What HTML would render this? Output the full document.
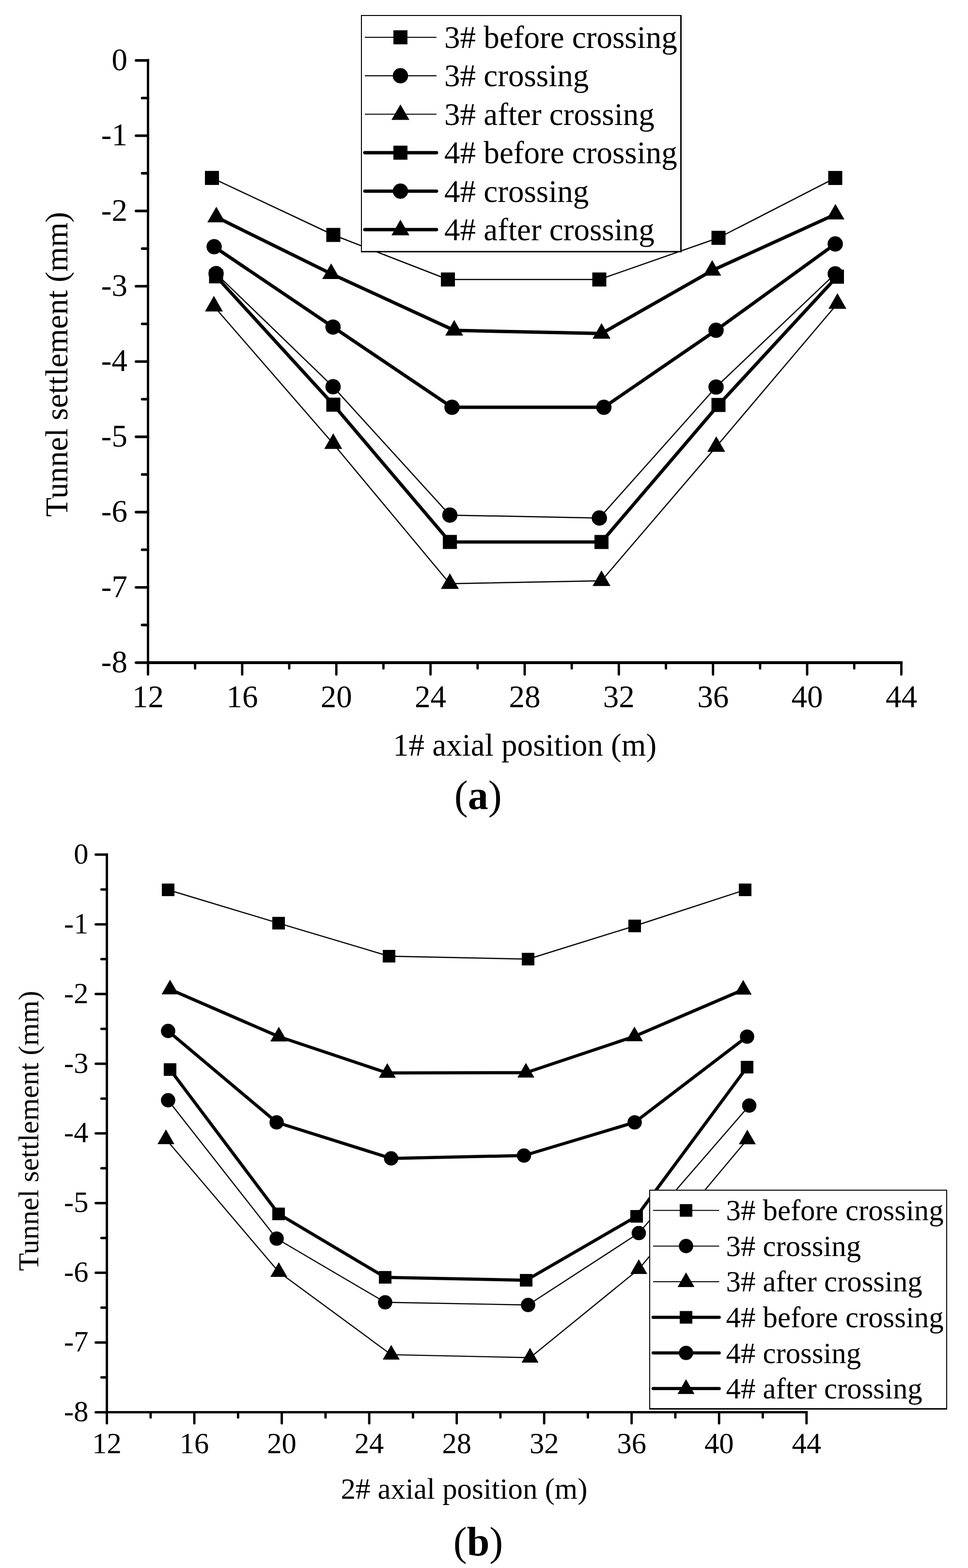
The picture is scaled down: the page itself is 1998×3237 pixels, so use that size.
<!DOCTYPE html>
<html><head><meta charset="utf-8"><title>Tunnel settlement</title>
<style>
html,body{margin:0;padding:0;background:#fff;}
body{width:1998px;height:3237px;overflow:hidden;}
svg{display:block;}
text{font-family:'Liberation Serif', serif;fill:#000;}
</style></head><body>
<svg width="1998" height="3237" viewBox="0 0 1998 3237">
<rect x="0" y="0" width="1998" height="3237" fill="#fff"/>

<polyline points="437.5,367.3 688.0,485.0 924.5,577.0 1237.0,577.0 1483.0,491.0 1724.0,367.4" fill="none" stroke="#000" stroke-width="2.5" stroke-linejoin="round" stroke-linecap="round"/>
<polyline points="446.0,564.8 687.5,798.4 928.5,1063.4 1237.1,1069.4 1478.0,799.0 1724.0,565.2" fill="none" stroke="#000" stroke-width="2.5" stroke-linejoin="round" stroke-linecap="round"/>
<polyline points="441.5,632.2 687.8,916.0 928.5,1205.0 1241.5,1199.0 1478.4,922.1 1728.5,626.7" fill="none" stroke="#000" stroke-width="2.5" stroke-linejoin="round" stroke-linecap="round"/>
<polyline points="446.0,570.5 688.0,835.4 928.5,1118.8 1241.5,1118.9 1483.0,836.0 1727.5,571.2" fill="none" stroke="#000" stroke-width="6.9" stroke-linejoin="round" stroke-linecap="round"/>
<polyline points="442.0,509.3 687.4,675.2 933.0,840.8 1246.4,840.8 1478.0,681.8 1724.0,503.6" fill="none" stroke="#000" stroke-width="6.9" stroke-linejoin="round" stroke-linecap="round"/>
<polyline points="446.5,448.2 683.5,565.2 937.5,682.0 1241.6,688.5 1470.0,558.4 1724.4,442.3" fill="none" stroke="#000" stroke-width="6.9" stroke-linejoin="round" stroke-linecap="round"/>
<g fill="#000">
<rect x="423.0" y="352.8" width="29.0" height="29.0"/>
<rect x="673.5" y="470.5" width="29.0" height="29.0"/>
<rect x="910.0" y="562.5" width="29.0" height="29.0"/>
<rect x="1222.5" y="562.5" width="29.0" height="29.0"/>
<rect x="1468.5" y="476.5" width="29.0" height="29.0"/>
<rect x="1709.5" y="352.9" width="29.0" height="29.0"/>
<circle cx="446.0" cy="564.8" r="15.8"/>
<circle cx="687.5" cy="798.4" r="15.8"/>
<circle cx="928.5" cy="1063.4" r="15.8"/>
<circle cx="1237.1" cy="1069.4" r="15.8"/>
<circle cx="1478.0" cy="799.0" r="15.8"/>
<circle cx="1724.0" cy="565.2" r="15.8"/>
<polygon points="441.5,610.8 423.0,642.9 460.0,642.9"/>
<polygon points="687.8,894.6 669.3,926.7 706.3,926.7"/>
<polygon points="928.5,1183.6 910.0,1215.7 947.0,1215.7"/>
<polygon points="1241.5,1177.6 1223.0,1209.7 1260.0,1209.7"/>
<polygon points="1478.4,900.7 1459.9,932.8 1496.9,932.8"/>
<polygon points="1728.5,605.3 1710.0,637.4 1747.0,637.4"/>
<rect x="431.5" y="556.0" width="29.0" height="29.0"/>
<rect x="673.5" y="820.9" width="29.0" height="29.0"/>
<rect x="914.0" y="1104.3" width="29.0" height="29.0"/>
<rect x="1227.0" y="1104.4" width="29.0" height="29.0"/>
<rect x="1468.5" y="821.5" width="29.0" height="29.0"/>
<rect x="1713.0" y="556.7" width="29.0" height="29.0"/>
<circle cx="442.0" cy="509.3" r="15.8"/>
<circle cx="687.4" cy="675.2" r="15.8"/>
<circle cx="933.0" cy="840.8" r="15.8"/>
<circle cx="1246.4" cy="840.8" r="15.8"/>
<circle cx="1478.0" cy="681.8" r="15.8"/>
<circle cx="1724.0" cy="503.6" r="15.8"/>
<polygon points="446.5,426.8 428.0,458.9 465.0,458.9"/>
<polygon points="683.5,543.8 665.0,575.9 702.0,575.9"/>
<polygon points="937.5,660.6 919.0,692.7 956.0,692.7"/>
<polygon points="1241.6,667.1 1223.1,699.2 1260.1,699.2"/>
<polygon points="1470.0,537.0 1451.5,569.1 1488.5,569.1"/>
<polygon points="1724.4,420.9 1705.9,453.0 1742.9,453.0"/>
</g>
<g stroke="#000" fill="none">
<line x1="305.5" y1="121.8" x2="305.5" y2="1368.0" stroke-width="4.9" stroke-linecap="butt"/>
<line x1="303.1" y1="1368.0" x2="1862.9" y2="1368.0" stroke-width="5.8" stroke-linecap="butt"/>
<line x1="305.5" y1="124.7" x2="280.7" y2="124.7" stroke-width="5.4" stroke-linecap="round"/>
<line x1="305.5" y1="202.4" x2="293.4" y2="202.4" stroke-width="5.4" stroke-linecap="round"/>
<line x1="305.5" y1="280.1" x2="280.7" y2="280.1" stroke-width="5.4" stroke-linecap="round"/>
<line x1="305.5" y1="357.8" x2="293.4" y2="357.8" stroke-width="5.4" stroke-linecap="round"/>
<line x1="305.5" y1="435.5" x2="280.7" y2="435.5" stroke-width="5.4" stroke-linecap="round"/>
<line x1="305.5" y1="513.2" x2="293.4" y2="513.2" stroke-width="5.4" stroke-linecap="round"/>
<line x1="305.5" y1="590.9" x2="280.7" y2="590.9" stroke-width="5.4" stroke-linecap="round"/>
<line x1="305.5" y1="668.6" x2="293.4" y2="668.6" stroke-width="5.4" stroke-linecap="round"/>
<line x1="305.5" y1="746.4" x2="280.7" y2="746.4" stroke-width="5.4" stroke-linecap="round"/>
<line x1="305.5" y1="824.1" x2="293.4" y2="824.1" stroke-width="5.4" stroke-linecap="round"/>
<line x1="305.5" y1="901.8" x2="280.7" y2="901.8" stroke-width="5.4" stroke-linecap="round"/>
<line x1="305.5" y1="979.5" x2="293.4" y2="979.5" stroke-width="5.4" stroke-linecap="round"/>
<line x1="305.5" y1="1057.2" x2="280.7" y2="1057.2" stroke-width="5.4" stroke-linecap="round"/>
<line x1="305.5" y1="1134.9" x2="293.4" y2="1134.9" stroke-width="5.4" stroke-linecap="round"/>
<line x1="305.5" y1="1212.6" x2="280.7" y2="1212.6" stroke-width="5.4" stroke-linecap="round"/>
<line x1="305.5" y1="1290.3" x2="293.4" y2="1290.3" stroke-width="5.4" stroke-linecap="round"/>
<line x1="305.5" y1="1368.0" x2="280.7" y2="1368.0" stroke-width="5.4" stroke-linecap="round"/>
<line x1="305.5" y1="1368.0" x2="305.5" y2="1392.6" stroke-width="4.9" stroke-linecap="round"/>
<line x1="402.7" y1="1368.0" x2="402.7" y2="1380.0" stroke-width="4.9" stroke-linecap="round"/>
<line x1="499.9" y1="1368.0" x2="499.9" y2="1392.6" stroke-width="4.9" stroke-linecap="round"/>
<line x1="597.0" y1="1368.0" x2="597.0" y2="1380.0" stroke-width="4.9" stroke-linecap="round"/>
<line x1="694.2" y1="1368.0" x2="694.2" y2="1392.6" stroke-width="4.9" stroke-linecap="round"/>
<line x1="791.4" y1="1368.0" x2="791.4" y2="1380.0" stroke-width="4.9" stroke-linecap="round"/>
<line x1="888.6" y1="1368.0" x2="888.6" y2="1392.6" stroke-width="4.9" stroke-linecap="round"/>
<line x1="985.8" y1="1368.0" x2="985.8" y2="1380.0" stroke-width="4.9" stroke-linecap="round"/>
<line x1="1083.0" y1="1368.0" x2="1083.0" y2="1392.6" stroke-width="4.9" stroke-linecap="round"/>
<line x1="1180.1" y1="1368.0" x2="1180.1" y2="1380.0" stroke-width="4.9" stroke-linecap="round"/>
<line x1="1277.3" y1="1368.0" x2="1277.3" y2="1392.6" stroke-width="4.9" stroke-linecap="round"/>
<line x1="1374.5" y1="1368.0" x2="1374.5" y2="1380.0" stroke-width="4.9" stroke-linecap="round"/>
<line x1="1471.7" y1="1368.0" x2="1471.7" y2="1392.6" stroke-width="4.9" stroke-linecap="round"/>
<line x1="1568.9" y1="1368.0" x2="1568.9" y2="1380.0" stroke-width="4.9" stroke-linecap="round"/>
<line x1="1666.0" y1="1368.0" x2="1666.0" y2="1392.6" stroke-width="4.9" stroke-linecap="round"/>
<line x1="1763.2" y1="1368.0" x2="1763.2" y2="1380.0" stroke-width="4.9" stroke-linecap="round"/>
<line x1="1860.4" y1="1368.0" x2="1860.4" y2="1392.6" stroke-width="4.9" stroke-linecap="round"/>
</g>
<g font-size="65" text-anchor="end">
<text x="263.0" y="144.7">0</text>
<text x="263.0" y="300.1">-1</text>
<text x="263.0" y="455.5">-2</text>
<text x="263.0" y="610.9">-3</text>
<text x="263.0" y="766.4">-4</text>
<text x="263.0" y="921.8">-5</text>
<text x="263.0" y="1077.2">-6</text>
<text x="263.0" y="1232.6">-7</text>
<text x="263.0" y="1388.0">-8</text>
</g>
<g font-size="65" text-anchor="middle">
<text x="305.5" y="1459.5">12</text>
<text x="499.9" y="1459.5">16</text>
<text x="694.2" y="1459.5">20</text>
<text x="888.6" y="1459.5">24</text>
<text x="1083.0" y="1459.5">28</text>
<text x="1277.3" y="1459.5">32</text>
<text x="1471.7" y="1459.5">36</text>
<text x="1666.0" y="1459.5">40</text>
<text x="1860.4" y="1459.5">44</text>
</g>
<text font-size="65.1" text-anchor="middle" x="1083.0" y="1560.0">1# axial position (m)</text>
<text font-size="65.4" text-anchor="middle" transform="translate(138.9,752.2) rotate(-90)">Tunnel settlement (mm)</text>
<text font-size="84" text-anchor="middle" x="986.7" y="1670.3">(<tspan font-weight="bold">a</tspan>)</text>
<rect x="745.0" y="31.0" width="662.0" height="490.0" fill="#fff"/>
<rect x="745.0" y="31.0" width="2" height="490.0" fill="#000"/>
<rect x="745.0" y="31.0" width="662.0" height="2" fill="#000"/>
<rect x="1404.0" y="31.0" width="3" height="490.0" fill="#000"/>
<rect x="745.0" y="518.0" width="662.0" height="3" fill="#000"/>
<line x1="753.0" y1="77.0" x2="901.0" y2="77.0" stroke="#000" stroke-width="2.1" stroke-linecap="butt"/>
<g fill="#000"><rect x="812.0" y="62.5" width="29.0" height="29.0"/></g>
<text font-size="65.1" x="917.0" y="99.0">3# before crossing</text>
<line x1="753.0" y1="156.4" x2="901.0" y2="156.4" stroke="#000" stroke-width="2.1" stroke-linecap="butt"/>
<g fill="#000"><circle cx="826.5" cy="156.4" r="15.8"/></g>
<text font-size="65.1" x="917.0" y="178.4">3# crossing</text>
<line x1="753.0" y1="235.8" x2="901.0" y2="235.8" stroke="#000" stroke-width="2.1" stroke-linecap="butt"/>
<g fill="#000"><polygon points="826.5,215.4 808.0,247.5 845.0,247.5"/></g>
<text font-size="65.1" x="917.0" y="257.8">3# after crossing</text>
<line x1="753.0" y1="315.2" x2="901.0" y2="315.2" stroke="#000" stroke-width="6.9" stroke-linecap="round"/>
<g fill="#000"><rect x="812.0" y="300.7" width="29.0" height="29.0"/></g>
<text font-size="65.1" x="917.0" y="337.2">4# before crossing</text>
<line x1="753.0" y1="394.6" x2="901.0" y2="394.6" stroke="#000" stroke-width="6.9" stroke-linecap="round"/>
<g fill="#000"><circle cx="826.5" cy="394.6" r="15.8"/></g>
<text font-size="65.1" x="917.0" y="416.6">4# crossing</text>
<line x1="753.0" y1="474.0" x2="901.0" y2="474.0" stroke="#000" stroke-width="6.9" stroke-linecap="round"/>
<g fill="#000"><polygon points="826.5,453.6 808.0,485.7 845.0,485.7"/></g>
<text font-size="65.1" x="917.0" y="496.0">4# after crossing</text>
<polyline points="347.0,1837.0 575.0,1905.8 803.0,1974.0 1090.0,1980.0 1310.0,1911.5 1538.0,1837.0" fill="none" stroke="#000" stroke-width="2.4" stroke-linejoin="round" stroke-linecap="round"/>
<polyline points="347.0,2271.4 571.0,2557.0 795.0,2688.5 1090.0,2694.0 1318.5,2545.5 1546.5,2282.4" fill="none" stroke="#000" stroke-width="2.4" stroke-linejoin="round" stroke-linecap="round"/>
<polyline points="342.5,2351.8 575.5,2626.0 807.5,2796.6 1094.0,2802.8 1318.5,2620.0 1542.5,2352.2" fill="none" stroke="#000" stroke-width="2.4" stroke-linejoin="round" stroke-linecap="round"/>
<polyline points="351.0,2208.0 575.0,2506.0 795.0,2636.9 1086.0,2643.0 1314.0,2511.0 1542.0,2203.0" fill="none" stroke="#000" stroke-width="6.5" stroke-linejoin="round" stroke-linecap="round"/>
<polyline points="347.0,2128.4 571.0,2317.0 807.3,2391.4 1081.5,2385.5 1310.0,2317.0 1542.0,2140.0" fill="none" stroke="#000" stroke-width="6.5" stroke-linejoin="round" stroke-linecap="round"/>
<polyline points="351.0,2042.6 575.5,2140.0 799.4,2215.0 1085.5,2214.5 1309.5,2139.5 1534.0,2043.2" fill="none" stroke="#000" stroke-width="6.5" stroke-linejoin="round" stroke-linecap="round"/>
<g fill="#000">
<rect x="334.0" y="1824.0" width="26.0" height="26.0"/>
<rect x="562.0" y="1892.8" width="26.0" height="26.0"/>
<rect x="790.0" y="1961.0" width="26.0" height="26.0"/>
<rect x="1077.0" y="1967.0" width="26.0" height="26.0"/>
<rect x="1297.0" y="1898.5" width="26.0" height="26.0"/>
<rect x="1525.0" y="1824.0" width="26.0" height="26.0"/>
<circle cx="347.0" cy="2271.4" r="14.8"/>
<circle cx="571.0" cy="2557.0" r="14.8"/>
<circle cx="795.0" cy="2688.5" r="14.8"/>
<circle cx="1090.0" cy="2694.0" r="14.8"/>
<circle cx="1318.5" cy="2545.5" r="14.8"/>
<circle cx="1546.5" cy="2282.4" r="14.8"/>
<polygon points="342.5,2331.6 325.0,2361.9 360.0,2361.9"/>
<polygon points="575.5,2605.8 558.0,2636.1 593.0,2636.1"/>
<polygon points="807.5,2776.4 790.0,2806.7 825.0,2806.7"/>
<polygon points="1094.0,2782.6 1076.5,2812.9 1111.5,2812.9"/>
<polygon points="1318.5,2599.8 1301.0,2630.1 1336.0,2630.1"/>
<polygon points="1542.5,2332.0 1525.0,2362.3 1560.0,2362.3"/>
<rect x="338.0" y="2195.0" width="26.0" height="26.0"/>
<rect x="562.0" y="2493.0" width="26.0" height="26.0"/>
<rect x="782.0" y="2623.9" width="26.0" height="26.0"/>
<rect x="1073.0" y="2630.0" width="26.0" height="26.0"/>
<rect x="1301.0" y="2498.0" width="26.0" height="26.0"/>
<rect x="1529.0" y="2190.0" width="26.0" height="26.0"/>
<circle cx="347.0" cy="2128.4" r="14.8"/>
<circle cx="571.0" cy="2317.0" r="14.8"/>
<circle cx="807.3" cy="2391.4" r="14.8"/>
<circle cx="1081.5" cy="2385.5" r="14.8"/>
<circle cx="1310.0" cy="2317.0" r="14.8"/>
<circle cx="1542.0" cy="2140.0" r="14.8"/>
<polygon points="351.0,2022.4 333.5,2052.7 368.5,2052.7"/>
<polygon points="575.5,2119.8 558.0,2150.1 593.0,2150.1"/>
<polygon points="799.4,2194.8 781.9,2225.1 816.9,2225.1"/>
<polygon points="1085.5,2194.3 1068.0,2224.6 1103.0,2224.6"/>
<polygon points="1309.5,2119.3 1292.0,2149.6 1327.0,2149.6"/>
<polygon points="1534.0,2023.0 1516.5,2053.3 1551.5,2053.3"/>
</g>
<g stroke="#000" fill="none">
<line x1="220.6" y1="1761.8" x2="220.6" y2="2915.4" stroke-width="4.9" stroke-linecap="butt"/>
<line x1="218.2" y1="2915.4" x2="1667.2" y2="2915.4" stroke-width="4.9" stroke-linecap="butt"/>
<line x1="220.6" y1="1764.3" x2="197.6" y2="1764.3" stroke-width="5.0" stroke-linecap="round"/>
<line x1="220.6" y1="1836.2" x2="209.4" y2="1836.2" stroke-width="5.0" stroke-linecap="round"/>
<line x1="220.6" y1="1908.2" x2="197.6" y2="1908.2" stroke-width="5.0" stroke-linecap="round"/>
<line x1="220.6" y1="1980.1" x2="209.4" y2="1980.1" stroke-width="5.0" stroke-linecap="round"/>
<line x1="220.6" y1="2052.1" x2="197.6" y2="2052.1" stroke-width="5.0" stroke-linecap="round"/>
<line x1="220.6" y1="2124.0" x2="209.4" y2="2124.0" stroke-width="5.0" stroke-linecap="round"/>
<line x1="220.6" y1="2196.0" x2="197.6" y2="2196.0" stroke-width="5.0" stroke-linecap="round"/>
<line x1="220.6" y1="2267.9" x2="209.4" y2="2267.9" stroke-width="5.0" stroke-linecap="round"/>
<line x1="220.6" y1="2339.8" x2="197.6" y2="2339.8" stroke-width="5.0" stroke-linecap="round"/>
<line x1="220.6" y1="2411.8" x2="209.4" y2="2411.8" stroke-width="5.0" stroke-linecap="round"/>
<line x1="220.6" y1="2483.7" x2="197.6" y2="2483.7" stroke-width="5.0" stroke-linecap="round"/>
<line x1="220.6" y1="2555.7" x2="209.4" y2="2555.7" stroke-width="5.0" stroke-linecap="round"/>
<line x1="220.6" y1="2627.6" x2="197.6" y2="2627.6" stroke-width="5.0" stroke-linecap="round"/>
<line x1="220.6" y1="2699.6" x2="209.4" y2="2699.6" stroke-width="5.0" stroke-linecap="round"/>
<line x1="220.6" y1="2771.5" x2="197.6" y2="2771.5" stroke-width="5.0" stroke-linecap="round"/>
<line x1="220.6" y1="2843.5" x2="209.4" y2="2843.5" stroke-width="5.0" stroke-linecap="round"/>
<line x1="220.6" y1="2915.4" x2="197.6" y2="2915.4" stroke-width="5.0" stroke-linecap="round"/>
<line x1="220.6" y1="2915.4" x2="220.6" y2="2938.4" stroke-width="4.9" stroke-linecap="round"/>
<line x1="310.9" y1="2915.4" x2="310.9" y2="2926.4" stroke-width="4.9" stroke-linecap="round"/>
<line x1="401.1" y1="2915.4" x2="401.1" y2="2938.4" stroke-width="4.9" stroke-linecap="round"/>
<line x1="491.4" y1="2915.4" x2="491.4" y2="2926.4" stroke-width="4.9" stroke-linecap="round"/>
<line x1="581.6" y1="2915.4" x2="581.6" y2="2938.4" stroke-width="4.9" stroke-linecap="round"/>
<line x1="671.9" y1="2915.4" x2="671.9" y2="2926.4" stroke-width="4.9" stroke-linecap="round"/>
<line x1="762.1" y1="2915.4" x2="762.1" y2="2938.4" stroke-width="4.9" stroke-linecap="round"/>
<line x1="852.4" y1="2915.4" x2="852.4" y2="2926.4" stroke-width="4.9" stroke-linecap="round"/>
<line x1="942.7" y1="2915.4" x2="942.7" y2="2938.4" stroke-width="4.9" stroke-linecap="round"/>
<line x1="1032.9" y1="2915.4" x2="1032.9" y2="2926.4" stroke-width="4.9" stroke-linecap="round"/>
<line x1="1123.2" y1="2915.4" x2="1123.2" y2="2938.4" stroke-width="4.9" stroke-linecap="round"/>
<line x1="1213.4" y1="2915.4" x2="1213.4" y2="2926.4" stroke-width="4.9" stroke-linecap="round"/>
<line x1="1303.7" y1="2915.4" x2="1303.7" y2="2938.4" stroke-width="4.9" stroke-linecap="round"/>
<line x1="1393.9" y1="2915.4" x2="1393.9" y2="2926.4" stroke-width="4.9" stroke-linecap="round"/>
<line x1="1484.2" y1="2915.4" x2="1484.2" y2="2938.4" stroke-width="4.9" stroke-linecap="round"/>
<line x1="1574.4" y1="2915.4" x2="1574.4" y2="2926.4" stroke-width="4.9" stroke-linecap="round"/>
<line x1="1664.7" y1="2915.4" x2="1664.7" y2="2938.4" stroke-width="4.9" stroke-linecap="round"/>
</g>
<g font-size="60.6" text-anchor="end">
<text x="182.5" y="1782.8">0</text>
<text x="182.5" y="1926.7">-1</text>
<text x="182.5" y="2070.6">-2</text>
<text x="182.5" y="2214.5">-3</text>
<text x="182.5" y="2358.3">-4</text>
<text x="182.5" y="2502.2">-5</text>
<text x="182.5" y="2646.1">-6</text>
<text x="182.5" y="2790.0">-7</text>
<text x="182.5" y="2933.9">-8</text>
</g>
<g font-size="60.6" text-anchor="middle">
<text x="220.6" y="2999.8">12</text>
<text x="401.1" y="2999.8">16</text>
<text x="581.6" y="2999.8">20</text>
<text x="762.1" y="2999.8">24</text>
<text x="942.7" y="2999.8">28</text>
<text x="1123.2" y="2999.8">32</text>
<text x="1303.7" y="2999.8">36</text>
<text x="1484.2" y="2999.8">40</text>
<text x="1664.7" y="2999.8">44</text>
</g>
<text font-size="60.9" text-anchor="middle" x="958.0" y="3093.7">2# axial position (m)</text>
<text font-size="60.1" text-anchor="middle" transform="translate(78.6,2334.5) rotate(-90)">Tunnel settlement (mm)</text>
<text font-size="84" text-anchor="middle" x="987.0" y="3210.5">(<tspan font-weight="bold">b</tspan>)</text>
<rect x="1340.0" y="2456.0" width="615.0" height="454.0" fill="#fff"/>
<rect x="1340.0" y="2456.0" width="2" height="454.0" fill="#000"/>
<rect x="1340.0" y="2456.0" width="615.0" height="2" fill="#000"/>
<rect x="1953.0" y="2456.0" width="2" height="454.0" fill="#000"/>
<rect x="1340.0" y="2907.0" width="615.0" height="3" fill="#000"/>
<line x1="1348.0" y1="2498.8" x2="1484.5" y2="2498.8" stroke="#000" stroke-width="2.0" stroke-linecap="butt"/>
<g fill="#000"><rect x="1403.0" y="2485.8" width="26.0" height="26.0"/></g>
<text font-size="60.8" x="1498.5" y="2519.3">3# before crossing</text>
<line x1="1348.0" y1="2572.4" x2="1484.5" y2="2572.4" stroke="#000" stroke-width="2.0" stroke-linecap="butt"/>
<g fill="#000"><circle cx="1416.0" cy="2572.4" r="14.8"/></g>
<text font-size="60.8" x="1498.5" y="2592.9">3# crossing</text>
<line x1="1348.0" y1="2645.9" x2="1484.5" y2="2645.9" stroke="#000" stroke-width="2.0" stroke-linecap="butt"/>
<g fill="#000"><polygon points="1416.0,2626.7 1398.5,2657.0 1433.5,2657.0"/></g>
<text font-size="60.8" x="1498.5" y="2666.4">3# after crossing</text>
<line x1="1348.0" y1="2719.5" x2="1484.5" y2="2719.5" stroke="#000" stroke-width="6.5" stroke-linecap="round"/>
<g fill="#000"><rect x="1403.0" y="2706.5" width="26.0" height="26.0"/></g>
<text font-size="60.8" x="1498.5" y="2740.0">4# before crossing</text>
<line x1="1348.0" y1="2793.0" x2="1484.5" y2="2793.0" stroke="#000" stroke-width="6.5" stroke-linecap="round"/>
<g fill="#000"><circle cx="1416.0" cy="2793.0" r="14.8"/></g>
<text font-size="60.8" x="1498.5" y="2813.5">4# crossing</text>
<line x1="1348.0" y1="2866.6" x2="1484.5" y2="2866.6" stroke="#000" stroke-width="6.5" stroke-linecap="round"/>
<g fill="#000"><polygon points="1416.0,2847.3 1398.5,2877.7 1433.5,2877.7"/></g>
<text font-size="60.8" x="1498.5" y="2887.1">4# after crossing</text>
</svg></body></html>
